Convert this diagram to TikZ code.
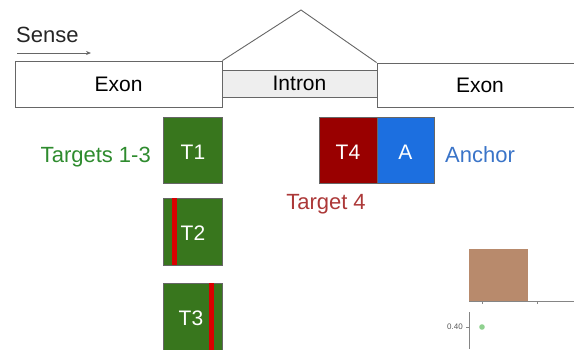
\documentclass[tikz,border=0pt]{standalone}
\usepackage{fontspec}
\setmainfont{Liberation Sans}
\usetikzlibrary{arrows.meta}
\definecolor{gborder}{HTML}{666666}
\definecolor{tgreen}{HTML}{38761D}
\definecolor{tred}{HTML}{990000}
\definecolor{tblue}{HTML}{1C6FE0}
\definecolor{lblred}{HTML}{AC3838}
\definecolor{lblgreen}{HTML}{2E8B2E}
\definecolor{lblblue}{HTML}{3A74C8}
\definecolor{introngray}{HTML}{EEEEEE}
\definecolor{barbrown}{HTML}{B88A6C}
\definecolor{dotgreen}{HTML}{8FD18F}
\tikzset{
  seg/.style={draw=gborder, line width=0.9pt, inner sep=0pt, font=\fontsize{21}{24}\selectfont},
  tbox/.style={draw=gborder, line width=0.6pt, inner sep=0pt, text=white, font=\fontsize{21}{24}\selectfont},
  tlab/.style={text=white, inner sep=0pt, font=\fontsize{21}{24}\selectfont},
  lbl/.style={inner sep=0pt, font=\fontsize{22}{26}\selectfont},
  redbar/.style={draw=none, fill=red!85!black},
}
\begin{document}
\begin{tikzpicture}[x=1pt,y=-1pt]
\useasboundingbox (0,0) rectangle (574,349);
\clip (0,0) rectangle (574,349);
% Sense
\node[lbl, anchor=base west, text=black!85] (sense) at (16,42) {Sense};
\coordinate (sa) at (17,53);
\coordinate (sb) at (91,53);
\draw[gborder, line width=0.8pt, -{Stealth[length=5pt,width=4pt]}] (sa) -- (sb);
% exons and intron
\node[seg, fill=white, minimum width=207pt, minimum height=46pt] (ex1) at (118.5,84) {Exon};
\node[seg, fill=introngray, minimum width=155pt, minimum height=27pt] (intr) at (299.5,83.5) {Intron};
\node[seg, fill=white, minimum width=210pt, minimum height=44pt, text width=194pt, align=left] (ex2) at (482,85) {\hspace*{71pt}Exon};
\coordinate (apex) at (301,10);
\draw[gborder, line width=0.9pt] (ex1.north east) -- (apex) -- (ex2.north west);
% targets
\node[tbox, fill=tgreen, minimum width=59pt, minimum height=66pt] (t1) at (192.5,150) {};
\node[tlab] (t1l) at (193,152) {T1};
\node[tbox, fill=tgreen, minimum width=59pt, minimum height=67pt] (t2) at (192.5,231.5) {};
\fill[redbar] ([xshift=9pt]t2.north west) rectangle ([xshift=14pt]t2.south west);
\node[tlab] (t2l) at (193,233) {T2};
\node[tbox, fill=tgreen, minimum width=59pt, minimum height=80pt] (t3) at (192.5,323) {};
\node[tlab] (t3l) at (191,318) {T3};
\fill[redbar] ([xshift=46pt]t3.north west) rectangle ([xshift=51pt]t3.south west);
\node[tbox, fill=tred, minimum width=58pt, minimum height=66pt] (t4) at (348,150) {};
\node[tlab] (t4l) at (348,152) {T4};
\node[tbox, fill=tblue, minimum width=57pt, minimum height=66pt, anchor=west] (an) at (t4.east) {};
\node[tlab] (anl) at (405.5,152) {A};
% labels
\node[lbl, text=lblgreen, anchor=base east] (lt) at (151,162) {Targets 1-3};
\node[lbl, text=lblblue, anchor=base west] (la) at (445,162) {Anchor};
\node[lbl, text=lblred, anchor=base] (l4) at (326,209) {Target 4};
% chart fragment
\node[draw=none, fill=barbrown, minimum width=59pt, minimum height=52pt, inner sep=0pt] (bar) at (498.5,275) {};
\coordinate (xa0) at (469,301);
\coordinate (xa1) at (574,301);
\draw[gborder!80, line width=0.7pt] (xa0) -- (xa1);
\draw[gborder!80, line width=0.6pt] (482,301) -- (482,304) (537,301) -- (537,304);
\coordinate (ya0) at (469,312);
\coordinate (ya1) at (469,349);
\draw[gborder!80, line width=0.7pt] (ya0) -- (ya1);
\draw[gborder!80, line width=0.6pt] (466,327) -- (469,327);
\node[anchor=east, inner sep=0pt, text=black!65, font=\fontsize{8}{9}\selectfont] (y40) at (463,327) {0.40};
\fill[dotgreen] (482,327) circle (2.8pt);
\end{tikzpicture}
\end{document}
